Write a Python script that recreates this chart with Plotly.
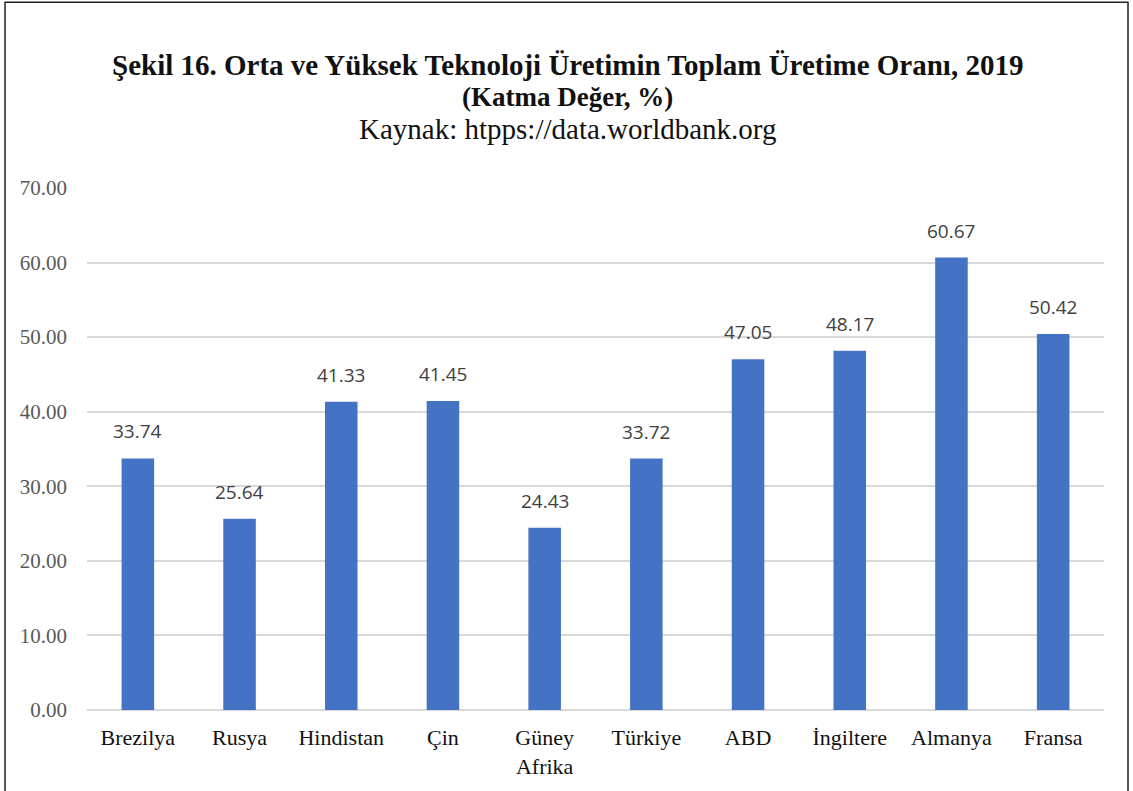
import plotly.graph_objects as go

countries = ["Brezilya", "Rusya", "Hindistan", "Çin", "Güney<br>Afrika",
             "Türkiye", "ABD", "İngiltere", "Almanya", "Fransa"]
values = [33.74, 25.64, 41.33, 41.45, 24.43, 33.72, 47.05, 48.17, 60.67, 50.42]
y_ticks = [0, 10, 20, 30, 40, 50, 60, 70]

fig = go.Figure()
fig.add_trace(go.Bar(x=countries, y=values, marker=dict(color="#4472C4", line=dict(width=0)),
                     width=0.32, hoverinfo="x+y"))

# value labels above bars
for c, v in zip(countries, values):
    fig.add_annotation(x=c, y=v, text=f"{v:.2f}", showarrow=False, yanchor="bottom",
                       yshift=12, font=dict(family="Open Sans", size=19, color="#404040"))

# title block
fig.add_annotation(xref="paper", yref="paper", x=0.472, y=1.2356, yanchor="middle",
                   text="<b>Şekil 16. Orta ve Yüksek Teknoloji Üretimin Toplam Üretime Oranı, 2019</b>",
                   showarrow=False, font=dict(family="Liberation Serif", size=29, color="#111111"))
fig.add_annotation(xref="paper", yref="paper", x=0.472, y=1.1743, yanchor="middle",
                   text="<b>(Katma Değer, %)</b>",
                   showarrow=False, font=dict(family="Liberation Serif", size=27, color="#111111"))
fig.add_annotation(xref="paper", yref="paper", x=0.472, y=1.113, yanchor="middle",
                   text="Kaynak: htpps://data.worldbank.org",
                   showarrow=False, font=dict(family="Liberation Serif", size=29, color="#111111"))

# outer frame
fig.add_shape(type="rect", xref="paper", yref="paper", x0=-0.0806, x1=1.0236, y0=-0.3, y1=1.356,
              line=dict(color="#222222", width=1.5))

fig.update_layout(
    width=1133, height=791,
    margin=dict(l=87, r=29, t=188, b=81),
    paper_bgcolor="white", plot_bgcolor="white",
    showlegend=False, bargap=0.68,
)
fig.update_xaxes(tickfont=dict(family="Liberation Serif", size=22, color="#111111"),
                 showline=False, ticks="", showgrid=False, ticklabelstandoff=12)
fig.update_yaxes(range=[0, 70], tickvals=y_ticks, tickformat=".2f",
                 tickfont=dict(family="Liberation Serif", size=21, color="#595959"),
                 showgrid=True, gridcolor="#d9d9d9", gridwidth=1.5,
                 zeroline=True, zerolinecolor="#d9d9d9", zerolinewidth=1.5,
                 ticks="", ticklabelstandoff=19)

fig.write_html("out.html", config={"displayModeBar": False},
               post_script="document.body.style.margin='0';")
